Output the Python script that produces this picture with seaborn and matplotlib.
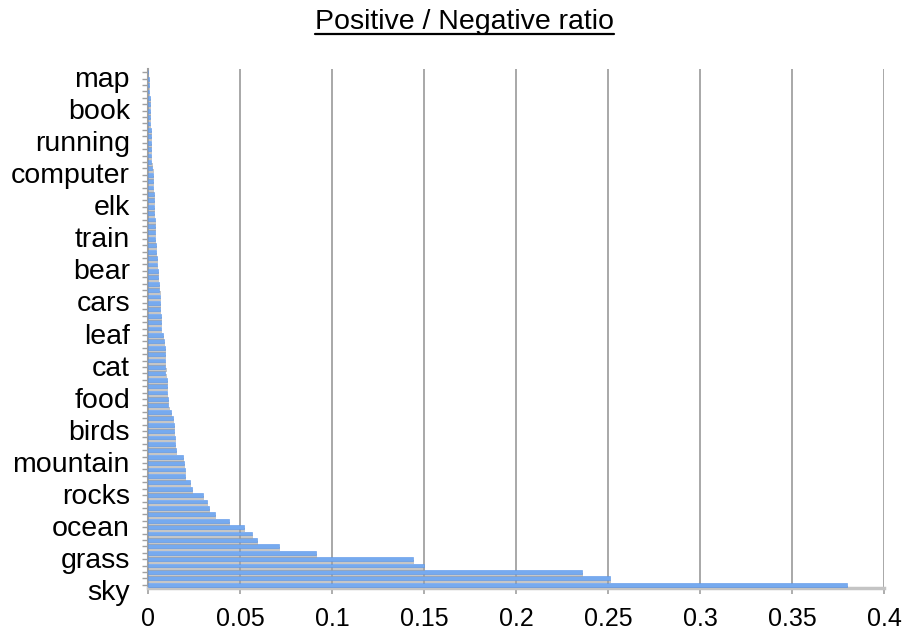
import numpy as np
import pandas as pd
import matplotlib
matplotlib.use("Agg")
import matplotlib.pyplot as plt
import matplotlib.patheffects as pe
import matplotlib.transforms as mtrans
from matplotlib.lines import Line2D
import seaborn as sns

# ---- data (index 0 = bottom bar "sky", index 80 = top bar "map") ----
ratios = [
    0.380, 0.251, 0.236, 0.150, 0.144, 0.0915, 0.071, 0.059, 0.0565, 0.052,
    0.044, 0.0365, 0.033, 0.032, 0.030, 0.024, 0.023, 0.020, 0.020, 0.0196,
    0.019, 0.0153, 0.0148, 0.0148, 0.0142, 0.0142, 0.0137, 0.0126, 0.0111, 0.0106,
    0.0101, 0.0101, 0.0101, 0.0095, 0.0095, 0.0090, 0.0090, 0.0090, 0.0085, 0.0079,
    0.0068, 0.0068, 0.0068, 0.0063, 0.0063, 0.0063, 0.0062, 0.0058, 0.0052, 0.0052,
    0.0047, 0.0047, 0.0041, 0.0041, 0.0036, 0.0036, 0.0036, 0.0036, 0.0031, 0.0031,
    0.0031, 0.0031, 0.0025, 0.0025, 0.0025, 0.0024, 0.0019, 0.0018, 0.0018, 0.0014,
    0.0014, 0.0014, 0.0011, 0.0011, 0.0011, 0.0009, 0.0009, 0.0007, 0.0005, 0.0003,
    0.0001,
]
# labels shown on every 5th category, from bottom to top
tick_labels = ["sky", "grass", "ocean", "rocks", "mountain", "birds", "food", "cat",
               "leaf", "cars", "bear", "train", "elk", "computer", "running", "book", "map"]
label_step = 5
x_ticks = [0, 0.05, 0.1, 0.15, 0.2, 0.25, 0.3, 0.35, 0.4]
title = "Positive / Negative ratio"

positions = list(range(len(ratios)))
df = pd.DataFrame({"pos": positions, "ratio": ratios})

sns.set_style("white")
plt.rcParams["font.family"] = ["Liberation Sans", "DejaVu Sans"]
plt.rcParams["text.color"] = "black"
plt.rcParams["xtick.labelcolor"] = "black"
plt.rcParams["ytick.labelcolor"] = "black"

W, H = 912, 634
fig = plt.figure(figsize=(W / 100, H / 100), dpi=100)
ax = fig.add_axes([148 / W, 1 - 588 / H, (884 - 148) / W, (588 - 69) / H])

sns.barplot(data=df, x="ratio", y="pos", orient="h", native_scale=True,
            color="#78abef", width=0.6, linewidth=0, ax=ax, zorder=3)

for p in ax.patches:
    p.set_facecolor("#76aaef")
    p.set_edgecolor("#5a95e8")
    p.set_linewidth(0.4)
    p.set_path_effects([pe.SimplePatchShadow(offset=(0.8, -2.2),
                                             shadow_rgbFace="#a0a0a0", alpha=0.6),
                        pe.Normal()])

ax.set_xlim(0, 0.4)
ax.set_ylim(-0.5, len(ratios) - 0.5)

# x axis
ax.set_xticks(x_ticks)
ax.set_xticklabels([f"{v:g}" for v in x_ticks], fontsize=18, color="black")
ax.tick_params(axis="x", direction="out", length=4.5, width=1.2, color="#a0a0a0",
               pad=9, bottom=True)
ax.grid(axis="x", color="#9a9a9a", linewidth=1.2, zorder=0)
ax.grid(axis="y", visible=False)
ax.set_axisbelow(True)

# y axis
ax.set_yticks(positions, minor=True)
ax.set_yticks(positions[::label_step])
ax.set_yticklabels(tick_labels, fontsize=20.5, color="black")
ax.tick_params(axis="y", which="both", direction="out", length=4, width=1.0,
               color="#a0a0a0", pad=9, left=True)
offset = mtrans.ScaledTranslation(0, -5 / 100, fig.dpi_scale_trans)
for lbl in ax.get_yticklabels():
    lbl.set_transform(lbl.get_transform() + offset)

ax.set_xlabel("")
ax.set_ylabel("")

for s in ["top", "right"]:
    ax.spines[s].set_visible(False)
ax.spines["left"].set_color("#a0a0a0")
ax.spines["left"].set_linewidth(1.5)
ax.spines["bottom"].set_color("#c4c4c4")
ax.spines["bottom"].set_linewidth(2.5)

# title with underline
t = fig.text(464.5 / W, 1 - 29 / H, title, ha="center", va="baseline",
             fontsize=20.5, color="black")
fig.canvas.draw()
bb = t.get_window_extent()
fig.add_artist(Line2D([bb.x0 / W, bb.x1 / W], [1 - 33.5 / H, 1 - 33.5 / H],
                      transform=fig.transFigure, color="black", linewidth=1.6))

fig.savefig("out.png", dpi=100)
